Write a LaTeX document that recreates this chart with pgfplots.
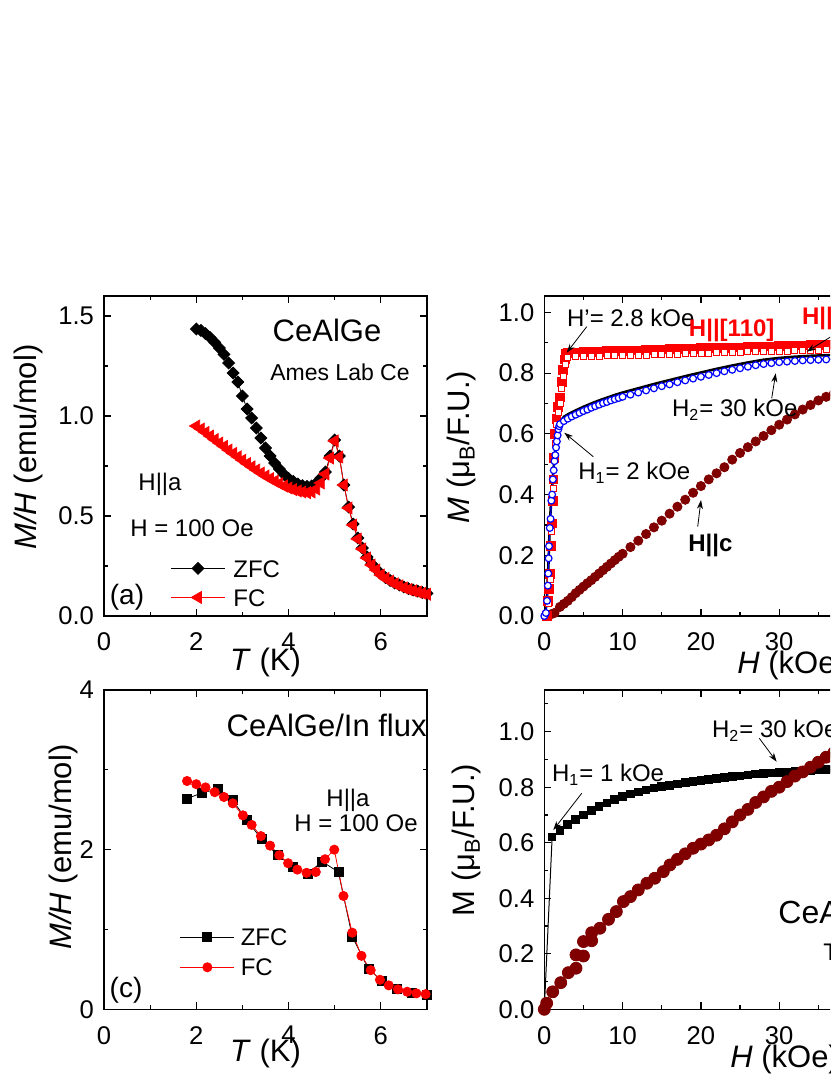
\documentclass[border=0pt]{standalone}
\usepackage{fontspec}
\setmainfont{Liberation Sans}
\usepackage{pgfplots}
\pgfplotsset{compat=1.18}
\usetikzlibrary{arrows.meta}

\definecolor{wine}{RGB}{128,0,0}

\pgfplotsset{
  panel/.style={
    scale only axis,
    anchor=south west,
    tick align=inside,
    major tick length=3.5pt,
    minor tick length=2pt,
    axis line style={line width=0.6pt},
    every tick/.append style={line width=0.6pt, black},
    tick label style={font=\fontsize{12.8}{14}\selectfont},
    xticklabel style={yshift=-5pt},
    yticklabel style={xshift=-1.5pt},
    label style={font=\fontsize{15.5}{17}\selectfont},
    /pgf/number format/assume math mode=true,
  },
  onedec/.style={yticklabel style={/pgf/number format/.cd, fixed, fixed zerofill, precision=1}},
}

\begin{document}
\begin{tikzpicture}
\path[use as bounding box] (0,0) rectangle (415pt,-537.5pt);
\clip (0,0) rectangle (415pt,-537.5pt);

% (a) CeAlGe, Ames Lab Ce
\begin{axis}[panel, onedec, at={(52pt,-308pt)}, width=161.5pt, height=160pt,
  xmin=0, xmax=7, ymin=0, ymax=1.6,
  xtick={0,2,4,6}, minor xtick={1,3,5,7},
  ytick={0,0.5,1,1.5}, minor ytick={0.25,0.75,1.25},
  xlabel={\textit{T} (K)},
  x label style={at={(axis description cs:0.5,0)}, anchor=center, yshift=-23pt},
  ylabel={\textit{M/H} (emu/mol)},
  y label style={at={(axis description cs:-0.235,0.528)}, anchor=center},
  legend cell align=left,
  legend image code/.code={\draw[mark repeat=2,mark phase=2,#1] plot coordinates {(0pt,0pt)(13.5pt,0pt)(27pt,0pt)};},
  legend style={at={(axis description cs:0.205,0.183)}, anchor=north west, draw=none, fill=none,
    inner sep=0pt, row sep=3.9pt, column sep=3pt, font=\fontsize{12}{14}\selectfont,
    nodes={inner sep=1pt, text height=8.6pt, text depth=0pt}},
]
\addplot[black, line width=0.4pt, mark=square*, mark size=2.1pt, mark options={solid, rotate=45}] table {
2.0 1.435
2.1 1.428
2.2 1.412
2.3 1.392
2.4 1.368
2.5 1.340
2.6 1.308
2.7 1.265
2.8 1.215
2.9 1.170
3.0 1.100
3.1 1.035
3.2 0.990
3.3 0.940
3.4 0.890
3.5 0.840
3.6 0.800
3.7 0.765
3.8 0.735
3.9 0.708
4.0 0.688
4.1 0.673
4.2 0.660
4.3 0.652
4.4 0.648
4.5 0.650
4.6 0.665
4.7 0.690
4.8 0.720
4.9 0.800
5.0 0.880
5.1 0.800
5.2 0.655
5.3 0.545
5.4 0.460
5.5 0.390
5.6 0.340
5.7 0.295
5.8 0.260
5.9 0.235
6.0 0.210
6.1 0.192
6.2 0.178
6.3 0.165
6.4 0.155
6.5 0.145
6.6 0.137
6.7 0.130
6.8 0.124
6.9 0.118
7.0 0.113
};
\addplot[red, line width=0.4pt, mark=triangle*, mark size=3.4pt, mark options={solid, rotate=90}] table {
2.0 0.950
2.1 0.935
2.2 0.918
2.3 0.900
2.4 0.882
2.5 0.865
2.6 0.848
2.7 0.830
2.8 0.813
2.9 0.796
3.0 0.779
3.1 0.762
3.2 0.746
3.3 0.730
3.4 0.715
3.5 0.700
3.6 0.687
3.7 0.674
3.8 0.662
3.9 0.650
4.0 0.640
4.1 0.632
4.2 0.625
4.3 0.620
4.4 0.617
4.5 0.620
4.6 0.635
4.7 0.665
4.8 0.710
4.9 0.790
5.0 0.875
5.1 0.795
5.2 0.655
5.3 0.540
5.4 0.455
5.5 0.385
5.6 0.335
5.7 0.290
5.8 0.255
5.9 0.230
6.0 0.205
6.1 0.188
6.2 0.174
6.3 0.161
6.4 0.151
6.5 0.141
6.6 0.133
6.7 0.126
6.8 0.120
6.9 0.114
7.0 0.109
};
\legend{ZFC, FC}
\end{axis}

% (b) M(H) at 2 K
\begin{axis}[panel, onedec, at={(272.15pt,-308pt)}, width=195.75pt, height=160pt,
  xmin=0, xmax=50, ymin=0, ymax=1.054,
  xtick={0,10,20,30,40,50}, minor xtick={5,15,25,35,45},
  ytick={0,0.2,0.4,0.6,0.8,1.0}, minor ytick={0.1,0.3,0.5,0.7,0.9},
  xlabel={\textit{H} (kOe)},
  x label style={at={(axis description cs:0.492,0)}, anchor=west, inner sep=0pt, yshift=-24.5pt},
  ylabel={\textit{M} (μ\textsubscript{B}/F.U.)},
  y label style={at={(axis description cs:-0.211,0.528)}, anchor=center},
]
% H||c
\addplot[wine, only marks, mark=*, mark size=2.3pt] table {
0.3 0.000
0.8 0.005
1.3 0.010
2.0 0.030
2.5 0.040
3.0 0.050
3.5 0.062
4.0 0.075
4.5 0.086
5.0 0.097
5.5 0.108
6.0 0.118
6.5 0.129
7.0 0.140
7.5 0.151
8.0 0.162
8.5 0.173
9.0 0.184
9.5 0.195
10 0.205
11 0.227
12 0.248
13 0.270
14 0.292
15 0.314
16 0.337
17 0.360
18 0.383
19 0.406
20 0.428
21 0.450
22 0.470
23 0.490
24 0.515
25 0.537
26 0.556
27 0.575
28 0.593
29 0.612
30 0.630
31 0.647
32 0.664
33 0.680
34 0.695
35 0.710
36 0.722
37 0.734
38 0.746
39 0.758
40 0.770
41 0.780
42 0.790
};
% H||[110], filled
\addplot[red, only marks, mark=square*, mark size=2.2pt] table {
0.3 0.000
0.5 0.050
0.6 0.090
0.73 0.140
0.85 0.230
0.94 0.305
1.05 0.380
1.15 0.450
1.25 0.520
1.37 0.600
1.55 0.650
1.76 0.690
2.0 0.720
2.2 0.770
2.4 0.810
2.6 0.845
2.8 0.862
3.0 0.866
3.5 0.867
4 0.868
5 0.869
6 0.870
7 0.871
8 0.872
9 0.873
10 0.874
11 0.875
12 0.875
13 0.876
14 0.877
15 0.878
16 0.879
17 0.879
18 0.880
19 0.881
20 0.882
21 0.882
22 0.883
23 0.884
24 0.885
25 0.885
26 0.886
27 0.887
28 0.888
29 0.888
30 0.889
31 0.890
32 0.891
33 0.891
34 0.892
35 0.893
36 0.894
37 0.894
38 0.895
39 0.896
40 0.897
42 0.898
44 0.900
};
% second red set, open
\addplot[red, only marks, mark=square*, mark size=1.5pt, mark options={fill=white}] table {
0.5 0.040
0.73 0.120
0.94 0.280
1.15 0.420
1.37 0.570
1.55 0.630
1.76 0.670
2.0 0.700
2.2 0.750
2.4 0.790
2.64 0.830
2.8 0.848
3 0.853
4 0.854
5 0.854
6 0.855
7 0.856
8 0.857
9 0.857
10 0.858
11 0.859
12 0.859
13 0.860
14 0.861
15 0.862
16 0.862
17 0.863
18 0.864
19 0.865
20 0.865
21 0.866
22 0.867
23 0.868
24 0.868
25 0.869
26 0.870
27 0.871
28 0.871
29 0.872
30 0.873
31 0.873
32 0.874
33 0.875
34 0.876
35 0.876
36 0.877
37 0.878
38 0.879
39 0.879
40 0.880
42 0.881
44 0.883
};
% black set just above the blue one
\addplot[black, line width=1.3pt] table {
0.0 0.000
0.3 0.040
0.5 0.150
0.7 0.300
0.9 0.390
1.1 0.460
1.3 0.520
1.5 0.565
1.7 0.605
1.9 0.636
2.5 0.656
3 0.664
4 0.677
5 0.689
6 0.700
7 0.710
8 0.719
9 0.728
10 0.736
12 0.750
14 0.764
16 0.777
18 0.790
20 0.802
22 0.814
24 0.825
26 0.835
28 0.844
30 0.850
32 0.854
34 0.857
36 0.859
38 0.861
40 0.862
};
% blue open circles
\addplot[blue, line width=0.6pt, mark=*, mark size=1.7pt, mark options={fill=white}] table {
0.0 0.000
0.2 0.010
0.35 0.050
0.45 0.100
0.5 0.140
0.55 0.190
0.6 0.230
0.7 0.290
0.8 0.320
0.9 0.380
1.0 0.400
1.1 0.450
1.2 0.480
1.3 0.510
1.4 0.530
1.5 0.555
1.6 0.575
1.7 0.595
1.8 0.615
1.9 0.625
2.0 0.632
2.5 0.642
3.0 0.650
3.5 0.657
4.0 0.663
4.5 0.669
5.0 0.675
5.5 0.680
6.0 0.686
6.5 0.691
7.0 0.696
7.5 0.701
8.0 0.705
8.5 0.710
9.0 0.714
9.5 0.718
10 0.722
11 0.729
12 0.736
13 0.743
14 0.750
15 0.757
16 0.763
17 0.770
18 0.776
19 0.782
20 0.788
21 0.794
22 0.800
23 0.806
24 0.811
25 0.816
26 0.821
27 0.826
28 0.830
29 0.833
30 0.836
31 0.838
32 0.840
33 0.842
34 0.843
35 0.844
36 0.845
37 0.846
38 0.847
40 0.848
};
\end{axis}

% (c) CeAlGe/In flux
\begin{axis}[panel, at={(52pt,-504.65pt)}, width=161.5pt, height=159.65pt,
  xmin=0, xmax=7, ymin=0, ymax=4,
  xtick={0,2,4,6}, minor xtick={1,3,5,7},
  ytick={0,2,4}, minor ytick={1,3},
  xlabel={\textit{T} (K)},
  x label style={at={(axis description cs:0.5,0)}, anchor=center, yshift=-22pt},
  ylabel={\textit{M/H} (emu/mol)},
  y label style={at={(axis description cs:-0.124,0.508)}, anchor=center},
  legend cell align=left,
  legend image code/.code={\draw[mark repeat=2,mark phase=2,#1] plot coordinates {(0pt,0pt)(13.5pt,0pt)(27pt,0pt)};},
  legend style={at={(axis description cs:0.234,0.26)}, anchor=north west, draw=none, fill=none,
    inner sep=0pt, row sep=4.4pt, column sep=2pt, font=\fontsize{12}{14}\selectfont,
    nodes={inner sep=1pt, text height=8.6pt, text depth=0pt}},
]
\addplot[black, line width=0.4pt, mark=square*, mark size=2.25pt, mark options={solid}] table {
1.80 2.64
2.12 2.71
2.47 2.76
2.79 2.62
3.09 2.37
3.42 2.13
3.76 1.93
4.09 1.79
4.41 1.70
4.73 1.85
5.08 1.72
5.38 0.91
5.73 0.51
6.03 0.35
6.35 0.26
6.68 0.20
7.00 0.18
};
\addplot[red, line width=0.4pt, mark=*, mark size=2.3pt, mark options={solid}] table {
1.80 2.86
2.00 2.82
2.20 2.78
2.40 2.72
2.60 2.66
2.79 2.58
3.01 2.43
3.20 2.31
3.40 2.17
3.60 2.05
3.80 1.93
3.99 1.83
4.19 1.75
4.39 1.71
4.59 1.72
4.79 1.88
4.99 2.00
5.19 1.42
5.38 0.96
5.58 0.67
5.78 0.49
5.98 0.37
6.17 0.30
6.37 0.25
6.57 0.22
6.77 0.20
6.97 0.19
};
\legend{ZFC, FC}
\end{axis}

% (d) M(H), flux grown
\begin{axis}[panel, onedec, at={(272.15pt,-504.65pt)}, width=195.75pt, height=159.65pt,
  xmin=0, xmax=50, ymin=0, ymax=1.15,
  xtick={0,10,20,30,40,50}, minor xtick={5,15,25,35,45},
  ytick={0,0.2,0.4,0.6,0.8,1.0}, minor ytick={0.1,0.3,0.5,0.7,0.9,1.1},
  xlabel={\textit{H} (kOe)},
  x label style={at={(axis description cs:0.474,0)}, anchor=west, inner sep=0pt, yshift=-25pt},
  ylabel={M (μ\textsubscript{B}/F.U.)},
  y label style={at={(axis description cs:-0.198,0.53)}, anchor=center},
]
\addplot[black, line width=0.5pt, mark=square*, mark size=1.9pt] table {
0 0.000
1 0.620
2 0.645
3 0.665
4 0.683
5 0.700
6 0.715
7 0.730
8 0.743
9 0.755
10 0.766
11 0.775
12 0.783
13 0.790
14 0.797
15 0.802
16 0.807
17 0.812
18 0.816
19 0.820
20 0.824
21 0.828
22 0.832
23 0.835
24 0.838
25 0.841
26 0.844
27 0.847
28 0.849
29 0.851
30 0.853
31 0.855
32 0.857
33 0.859
34 0.860
35 0.862
36 0.863
37 0.864
38 0.866
40 0.869
};
\addplot[wine, only marks, mark=*, mark size=3pt] table {
0.0 0.000
0.3 0.022
1.07 0.063
2.1 0.096
3.07 0.132
4.05 0.148
4.05 0.196
5.0 0.192
5.0 0.244
6.05 0.247
6.05 0.276
7.1 0.292
8.2 0.324
9.2 0.352
10.1 0.388
11.0 0.406
12.0 0.430
13.1 0.454
14.1 0.472
15.2 0.496
16.05 0.520
17 0.540
18 0.560
19 0.580
20 0.595
21 0.610
22 0.627
23 0.650
24 0.675
25 0.700
26 0.720
27 0.745
28 0.765
29 0.785
30 0.800
31 0.820
32 0.840
33 0.855
34 0.872
35 0.890
36 0.908
37 0.925
38 0.940
39 0.955
40 0.970
};
\end{axis}

% annotations, in pixel units of the figure
\begin{scope}[x=0.5pt, y=-0.5pt, font=\fontsize{12}{14}\selectfont,
  arr/.style={-{Stealth[length=4.5pt,width=3pt]}, line width=0.4pt}]
% (a)
\node[font=\fontsize{15.5}{17}\selectfont] at (327,330) {CeAlGe};
\node[font=\fontsize{11.5}{13}\selectfont] at (340,372) {Ames Lab Ce};
\node at (160,484) {H||a};
\node at (192,528) {H = 100 Oe};
\node[font=\fontsize{14}{16}\selectfont] at (127,597) {(a)};
% (b)
\node[anchor=west, inner sep=0pt] at (566.7,318) {H\symbol{39}= 2.8 kOe};
\draw[arr] (586.7,326.7) -- (566.7,352.7);
\node[red, font=\fontsize{12}{14}\selectfont\bfseries] at (731.7,330) {H||[110]};
\node[red, anchor=west, inner sep=0pt, font=\fontsize{12}{14}\selectfont\bfseries] at (801.7,318) {H||a};
\draw[arr] (845,328) -- (806.7,351.7);
\node[anchor=west, inner sep=0pt] at (671.7,410) {H\textsubscript{2}= 30 kOe};
\draw[arr] (771.7,398.3) -- (775.7,373.3);
\node[anchor=west, inner sep=0pt] at (578,472.7) {H\textsubscript{1}= 2 kOe};
\draw[arr] (593.3,456.7) -- (564.3,432.7);
\node[anchor=west, inner sep=0pt, font=\fontsize{12}{14}\selectfont\bfseries] at (688,545.7) {H||c};
\draw[arr] (697.7,526.7) -- (701,500);
% (c)
\node[anchor=east, inner sep=0pt, font=\fontsize{15.5}{17}\selectfont] at (427,725) {CeAlGe/In flux};
\node at (348,800) {H||a};
\node at (356,823.3) {H = 100 Oe};
\node[font=\fontsize{14}{16}\selectfont] at (126,990) {(c)};
% (d)
\node[anchor=west, inner sep=0pt] at (551.7,775) {H\textsubscript{1}= 1 kOe};
\draw[arr] (581.7,793.3) -- (553.3,830);
\node[anchor=west, inner sep=0pt] at (711.7,730.7) {H\textsubscript{2}= 30 kOe};
\draw[arr] (759.3,738.3) -- (776.7,761.7);
\node[anchor=west, inner sep=0pt, font=\fontsize{16}{18}\selectfont] at (778,911.7) {CeAlGe/In flux};
\node[anchor=west, inner sep=0pt] at (823,951.7) {T = 2 K};
\end{scope}
\end{tikzpicture}
\end{document}
